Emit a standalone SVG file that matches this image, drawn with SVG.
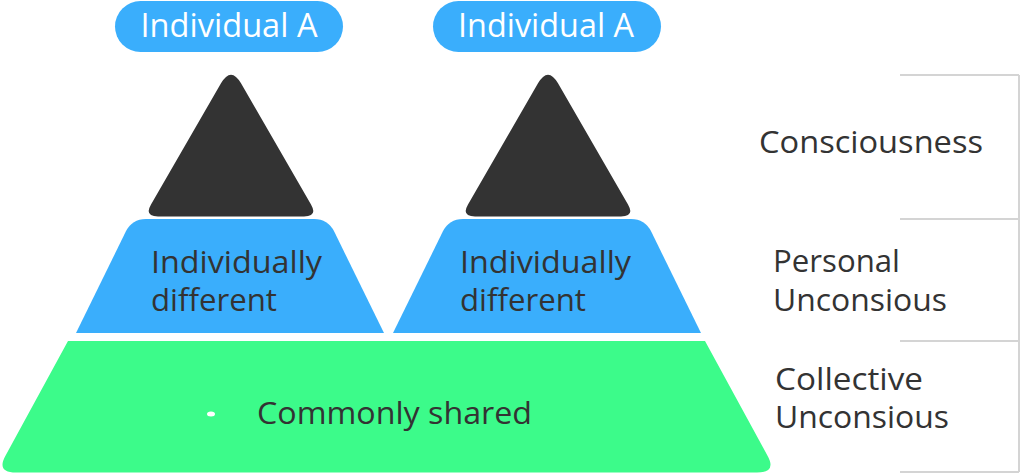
<svg xmlns="http://www.w3.org/2000/svg" width="1024" height="474" viewBox="0 0 1024 474">
  <style>
    .blue { fill: #3aaefc; }
    .green { fill: #3cfb8a; }
    .dark { fill: #333333; }
    .pilltxt { font-family: "Open Sans", "Liberation Sans", sans-serif; font-size: 32px; font-weight: 400; fill: #ffffff; text-anchor: middle; }
    .txt { font-family: "Open Sans", "Liberation Sans", sans-serif; font-size: 31px; font-weight: 400; fill: #333333; }
    .rule { stroke: #d4d4d4; stroke-width: 2; fill: none; }
  </style>
  <defs>
    <path id="tri" d="M 221 83.3 Q 231 66 241 83.3 L 311 204.4 Q 318 216.5 304 216.5 L 158 216.5 Q 144 216.5 151 204.4 Z"/>
    <path id="trap" d="M 76 333 L 125.8 231.6 Q 132 219 146 219 L 314 219 Q 328 219 334.2 231.6 L 384 333 Z"/>
  </defs>

  <g id="label-a1">
    <rect class="blue" x="115" y="1" width="228" height="51" rx="25.5"/>
    <text class="pilltxt" x="229" y="37" textLength="177" lengthAdjust="spacingAndGlyphs">Individual A</text>
  </g>
  <g id="label-a2">
    <rect class="blue" x="433" y="1" width="228" height="51" rx="25.5"/>
    <text class="pilltxt" x="546" y="37" textLength="176" lengthAdjust="spacingAndGlyphs">Individual A</text>
  </g>

  <g id="consciousness-1">
    <use href="#tri" class="dark"/>
  </g>
  <g id="consciousness-2">
    <use href="#tri" class="dark" transform="translate(317,0)"/>
  </g>

  <g id="personal-1">
    <use href="#trap" class="blue"/>
    <text class="txt" x="151" y="273" textLength="171" lengthAdjust="spacingAndGlyphs">Individually</text>
    <text class="txt" x="151" y="311" textLength="126" lengthAdjust="spacingAndGlyphs">different</text>
  </g>
  <g id="personal-2">
    <use href="#trap" class="blue" transform="translate(317,0)"/>
    <text class="txt" x="460" y="273" textLength="171" lengthAdjust="spacingAndGlyphs">Individually</text>
    <text class="txt" x="460" y="311" textLength="126" lengthAdjust="spacingAndGlyphs">different</text>
  </g>

  <g id="collective">
    <path class="green" d="M 68 341 L 705 341 L 767.4 455.4 Q 777 472.5 757 472.5 L 16 472.5 Q -4 472.5 5.6 455.4 Z"/>
    <ellipse cx="211" cy="414" rx="4" ry="2.5" fill="#ffffff"/>
    <text class="txt" x="257" y="424" textLength="275" lengthAdjust="spacingAndGlyphs">Commonly shared</text>
  </g>

  <g id="connectors">
    <line class="rule" x1="900" y1="75" x2="1019" y2="75"/>
    <line class="rule" x1="900" y1="219" x2="1019" y2="219"/>
    <line class="rule" x1="900" y1="341" x2="1019" y2="341"/>
    <line class="rule" x1="900" y1="472" x2="1019" y2="472"/>
    <line class="rule" x1="1019" y1="75" x2="1019" y2="472"/>
  </g>

  <g id="level-labels">
    <text class="txt" x="759" y="153" textLength="224" lengthAdjust="spacingAndGlyphs">Consciousness</text>
    <text class="txt" x="773" y="272" textLength="127" lengthAdjust="spacingAndGlyphs">Personal</text>
    <text class="txt" x="773" y="311" textLength="174" lengthAdjust="spacingAndGlyphs">Unconsious</text>
    <text class="txt" x="775" y="390" textLength="148" lengthAdjust="spacingAndGlyphs">Collective</text>
    <text class="txt" x="775" y="428" textLength="174" lengthAdjust="spacingAndGlyphs">Unconsious</text>
  </g>
</svg>
